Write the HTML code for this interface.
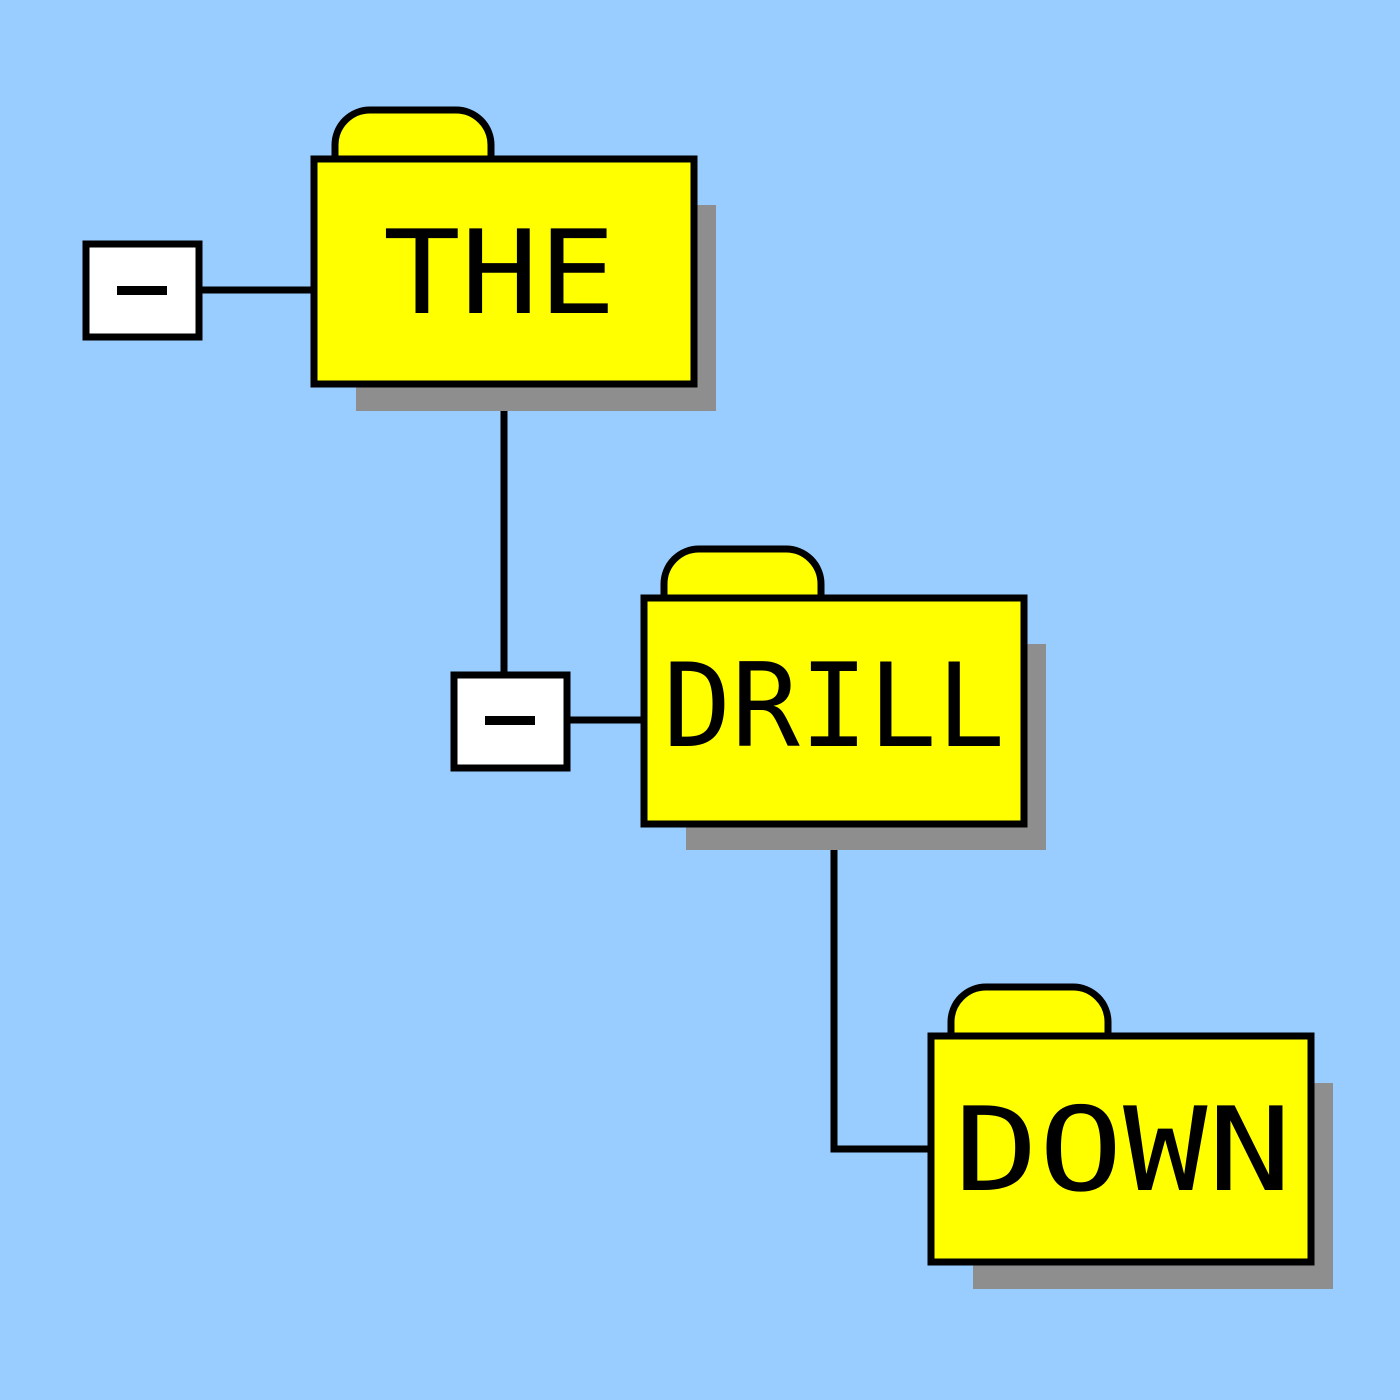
<!DOCTYPE html>
<html><head><meta charset="utf-8"><style>html,body{margin:0;padding:0;background:#99ccff}svg{display:block}</style></head>
<body>
<svg width="1400" height="1400" viewBox="0 0 1400 1400" xmlns="http://www.w3.org/2000/svg">
<rect width="1400" height="1400" fill="#99ccff"/>
<g stroke="#000" stroke-width="7" fill="none">
<line x1="199" y1="290" x2="314" y2="290"/>
<line x1="504" y1="384" x2="504" y2="674"/>
<line x1="567" y1="720" x2="644" y2="720"/>
<polyline points="834,824 834,1149 931,1149"/>
</g>
<rect x="356" y="205" width="360" height="206" fill="#8e8e8e"/>
<rect x="686" y="644" width="360" height="206" fill="#8e8e8e"/>
<rect x="973" y="1083" width="360" height="206" fill="#8e8e8e"/>
<g stroke="#000" stroke-width="7" fill="#ffff00">
<path d="M335,159 V145 A35,35 0 0 1 370,110 H456 A35,35 0 0 1 491,145 V159"/>
<rect x="314" y="159" width="380" height="225"/>
<path d="M664,598 V584 A35,35 0 0 1 699,549 H786 A35,35 0 0 1 821,584 V598"/>
<rect x="644" y="598" width="380" height="226"/>
<path d="M951,1036 V1022 A35,35 0 0 1 986,987 H1073 A35,35 0 0 1 1108,1022 V1036"/>
<rect x="931" y="1036" width="380" height="226"/>
</g>
<g stroke="#000" stroke-width="7" fill="#fff">
<rect x="86" y="244" width="113" height="93"/>
<rect x="454" y="675" width="113" height="93"/>
</g>
<rect x="117" y="286" width="50" height="9" fill="#000"/>
<rect x="485" y="716" width="50" height="9" fill="#000"/>
<g font-family="'DejaVu Sans Mono','Liberation Mono',monospace" font-size="116" fill="#000" lengthAdjust="spacingAndGlyphs">
<text x="383" y="313" textLength="233" lengthAdjust="spacingAndGlyphs">THE</text>
<text x="663" y="746" textLength="342" lengthAdjust="spacingAndGlyphs">DRILL</text>
<text x="954" y="1190" textLength="338" lengthAdjust="spacingAndGlyphs">DOWN</text>
</g>
</svg>
</body></html>
